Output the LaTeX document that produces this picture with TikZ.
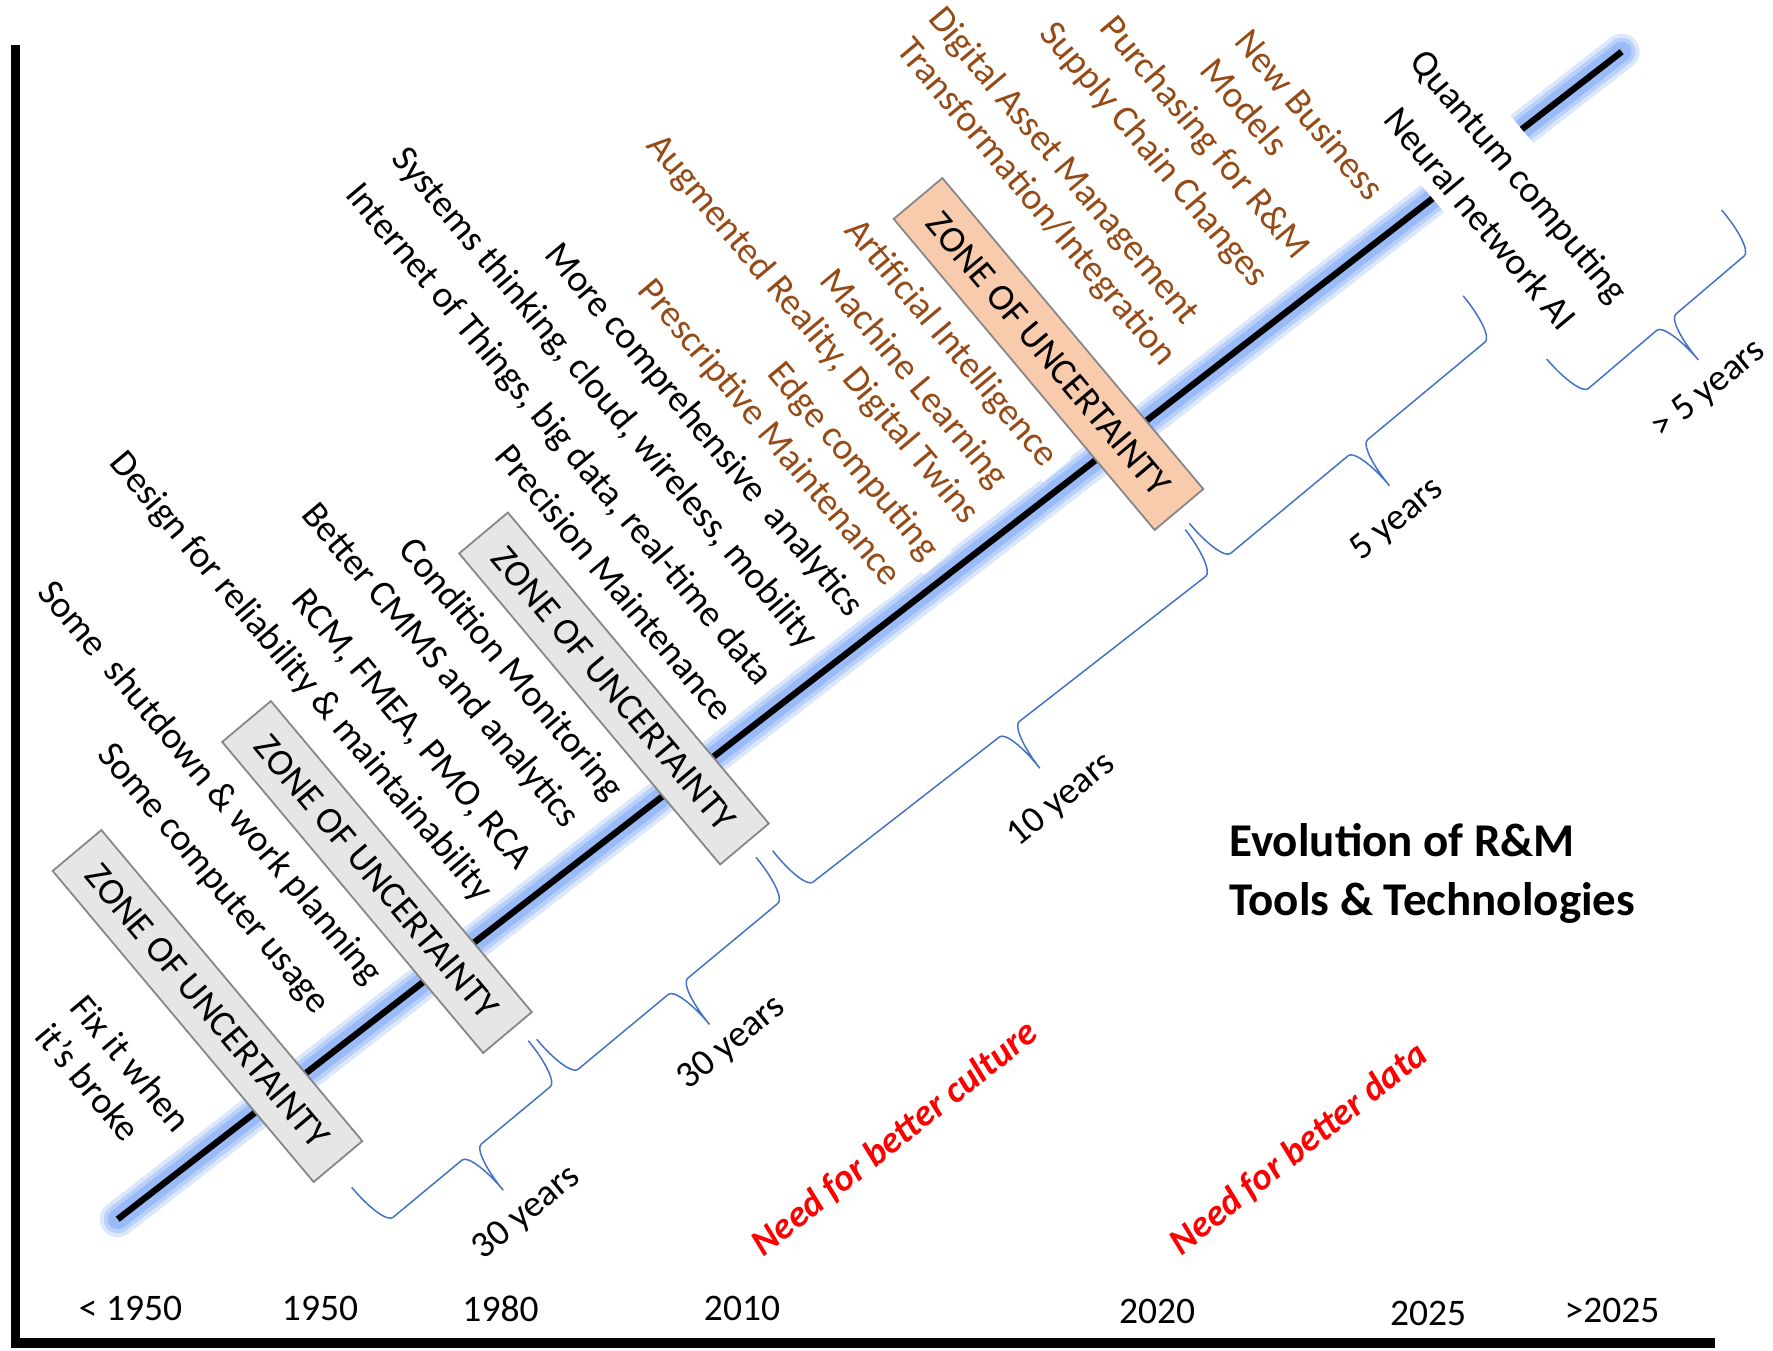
\documentclass[tikz,border=0pt]{standalone}
\usepackage{fontspec}
\setmainfont{Carlito}
\definecolor{rmbrown}{RGB}{150,74,22}
\definecolor{braceblue}{RGB}{68,114,196}
\definecolor{glowblue}{RGB}{95,148,242}
\definecolor{zonegray}{RGB}{231,230,230}
\definecolor{zoneorange}{RGB}{248,203,173}
\definecolor{zoneedge}{RGB}{135,135,135}
\newcommand{\lblfont}{\fontsize{18.75}{22.5}\selectfont}
\newcommand{\ttlfont}{\fontsize{23.5}{29.5}\selectfont\bfseries}
\begin{document}
\begin{tikzpicture}[x=0.5pt, y=-0.5pt,
  tag/.style={font=\lblfont, inner sep=0pt, rotate=-50},
  tagbrown/.style={tag, text=rmbrown, fill=white, inner xsep=5pt, inner ysep=1pt},
  zonebox/.style={draw=zoneedge, line width=0.9pt, rotate=-50, minimum width=203pt,
    minimum height=31.8pt, inner sep=0pt, font=\lblfont},
  span/.style={font=\lblfont, rotate=39.5, inner sep=0pt},
  need/.style={font=\lblfont\bfseries\itshape, text=red, rotate=38.5, inner sep=0pt},
  year/.style={font=\lblfont, inner sep=0pt},
  bracepath/.style={draw=braceblue, line width=0.75pt},
  axisline/.style={line width=4.8pt, black},
  pics/yearbrace/.style 2 args={code={
    \draw[bracepath, rotate=#2]
      (0,0) .. controls (0,27.3) and (5.6,49.5) .. (12.5,49.5)
      -- ({#1/2-12.5},49.5)
      .. controls ({#1/2-5.6},49.5) and ({#1/2},71.7) .. ({#1/2},99)
      .. controls ({#1/2},71.7) and ({#1/2+5.6},49.5) .. ({#1/2+12.5},49.5)
      -- ({#1-12.5},49.5)
      .. controls ({#1-5.6},49.5) and (#1,27.3) .. (#1,0);
  }}
]
\useasboundingbox (0,0) rectangle (1773,1350);

% the time line with its soft blue glow
\coordinate (lineS) at (117.7,1219.2);
\coordinate (lineE) at (1621.7,51.7);
\foreach \w/\o in {18/0.22,14/0.28,10/0.35}
  \draw[glowblue, line width=\w pt, opacity=\o, line cap=round] (lineS) -- (lineE);

% newer tools and technologies
\node[tagbrown] (presc) at (769,433.3) {Prescriptive Maintenance};
\node[tagbrown] (augm) at (812.3,329.8) {Augmented Reality, Digital Twins};
\node[tagbrown] (edge) at (852.7,461.5) {Edge computing};
\node[tagbrown] (mlearn) at (913,379.5) {Machine Learning};
\node[tagbrown] (aint) at (950.5,343.9) {Artificial Intelligence};
\node[tagbrown] (dam) at (1063,166.5) {Digital Asset Management};
\node[tagbrown] (transf) at (1035.5,203) {Transformation/Integration};
\node[tagbrown] (supply) at (1153.2,155.3) {Supply Chain Changes};
\node[tagbrown] (purch) at (1204,138.5) {Purchasing for R\&M};
\node[tagbrown, align=left] (newbm) at (1293,129) {New Business\\Models};

\draw[line width=3.2pt] (lineS) -- (lineE);

% zones of uncertainty
\node[zonebox, fill=zonegray] (z1) at (207.5,1006) {ZONE OF UNCERTAINTY};
\node[zonebox, fill=zonegray] (z2) at (377,877) {ZONE OF UNCERTAINTY};
\node[zonebox, fill=zonegray] (z3) at (614,688.5) {ZONE OF UNCERTAINTY};
\node[zonebox, fill=zoneorange] (z4) at (1048.5,354) {ZONE OF UNCERTAINTY};

% established practices
\node[tag, align=left] (fix) at (114,1077.5) {Fix it when\\it’s broke};
\node[tag] (comp) at (212.7,879.8) {Some computer usage};
\node[tag] (shut) at (209.5,783.5) {Some~ shutdown \& work planning};
\node[tag] (design) at (300.4,677) {Design for reliability \& maintainability};
\node[tag] (rcm) at (411,730) {RCM, FMEA, PMO, RCA};
\node[tag] (cmms) at (440,666.3) {Better CMMS and analytics};
\node[tag] (cond) at (510,670) {Condition Monitoring};
\node[tag] (prec) at (615,582) {Precision Maintenance};
\node[tag] (iot) at (558.4,435.4) {Internet of Things, big data, real-time data};
\node[tag] (sys) at (604,398.5) {Systems thinking, cloud, wireless, mobility};
\node[tag] (more) at (703.5,431) {More comprehensive~ analytics};

% far-future items sit on the line itself
\node[tag, fill=white, inner xsep=6pt, inner ysep=9pt] (quant) at (1517.5,177.5) {Quantum computing};
\node[tag, fill=white, inner xsep=6pt, inner ysep=5.5pt] (neural) at (1480.8,218.3) {Neural network AI};

% spans between the eras
\pic at (351.7,1187.3) {yearbrace={229.5}{39.7}};
\pic at (536.7,1039.3) {yearbrace={285}{39.7}};
\pic at (772.7,850.7) {yearbrace={522.8}{37.9}};
\pic at (1189.3,523.3) {yearbrace={356}{39.7}};
\pic at (1546.7,359) {yearbrace={229.8}{40.4}};
\node[span] (sp1) at (527,1213) {30 years};
\node[span] (sp2) at (731.7,1043.3) {30 years};
\node[span] (sp3) at (1061.7,800) {10 years};
\node[span] (sp4) at (1397.5,520) {5 years};
\node[span] (sp5) at (1709,390) {> 5 years};

% needs
\node[need] (culture) at (895,1138.8) {Need for better culture};
\node[need] (data) at (1298.8,1148.8) {Need for better data};

% title
\node[font=\ttlfont, align=left, anchor=west, inner sep=0pt] (title) at (1229,873)
  {Evolution of R\&M\\Tools \& Technologies};

% axes and era labels
\coordinate (ytop) at (15.5,45);
\coordinate (origin) at (15.5,1343);
\coordinate (xend) at (1715,1343);
\draw[axisline] (ytop) -- (origin) -- (xend);
\node[year] (y0) at (130.5,1308.5) {< 1950};
\node[year] (y1) at (320,1308.5) {1950};
\node[year] (y2) at (500.5,1308.5) {1980};
\node[year] (y3) at (742,1308.5) {2010};
\node[year] (y4) at (1157,1311) {2020};
\node[year] (y5) at (1428,1313) {2025};
\node[year] (y6) at (1612,1310) {>2025};
\end{tikzpicture}
\end{document}
